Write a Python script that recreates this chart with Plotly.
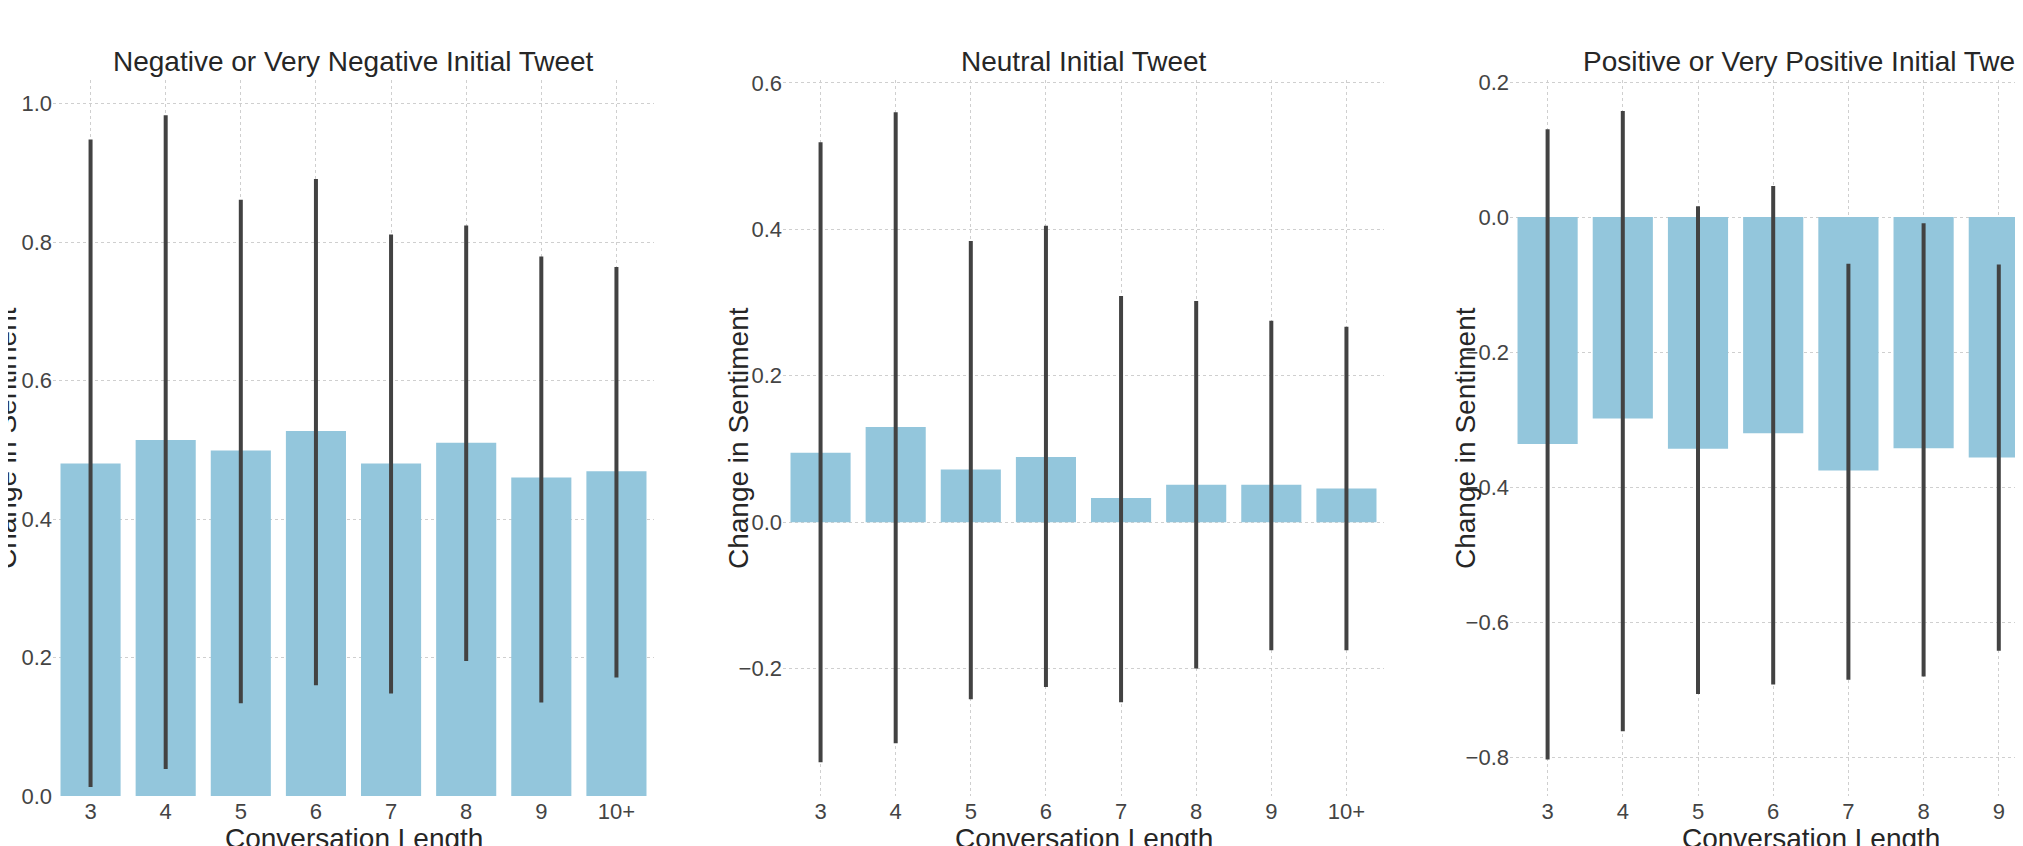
import plotly.graph_objects as go

# ---------------- data ----------------
categories = ["3", "4", "5", "6", "7", "8", "9", "10+"]
categories_pos = ["3", "4", "5", "6", "7", "8", "9"]   # 10+ is cut off in the picture

neg_mean = [0.480, 0.514, 0.499, 0.527, 0.480, 0.510, 0.460, 0.469]
neg_hi   = [0.948, 0.983, 0.861, 0.891, 0.811, 0.824, 0.779, 0.764]
neg_lo   = [0.013, 0.039, 0.134, 0.160, 0.148, 0.195, 0.135, 0.171]

neu_mean = [0.095, 0.130, 0.072, 0.089, 0.033, 0.051, 0.051, 0.046]
neu_hi   = [0.519, 0.560, 0.384, 0.405, 0.309, 0.302, 0.275, 0.267]
neu_lo   = [-0.328, -0.302, -0.242, -0.225, -0.246, -0.200, -0.175, -0.175]

pos_mean = [-0.336, -0.298, -0.343, -0.320, -0.375, -0.342, -0.356]
pos_hi   = [0.130, 0.157, 0.016, 0.046, -0.069, -0.009, -0.070]
pos_lo   = [-0.803, -0.761, -0.706, -0.692, -0.685, -0.680, -0.642]

titles = ["Negative or Very Negative Initial Tweet",
          "Neutral Initial Tweet",
          "Positive or Very Positive Initial Tweet"]

# ---------------- style ----------------
W, H = 2023, 846
OFF = 8            # page body margin offset
BAR = "#93C6DC"
ERR = "#424242"
FONT = "Liberation Sans, Arial, Helvetica, sans-serif"
TXT = "#262626"
TICK = "#444444"
GRID = "#cfcfcf"

PLOT_TOP, PLOT_BOT = 80, 796          # page px
ML, MR = 0, 0
MT = PLOT_TOP - OFF
MB = H - (PLOT_BOT - OFF)

# page-pixel extents of the three plot areas (left, right)
panels_px = [(53, 654), (783, 1384), (1510, W + OFF)]
full_right3 = 2112  # where panel 3 would end if not cut off
STEP = 75.2
ytitle_dx = [47, 45, 45]

def px2paper(x_page):
    return (x_page - OFF - ML) / (W - ML - MR)

fig = go.Figure()

series = [(categories, neg_mean, neg_hi, neg_lo),
          (categories, neu_mean, neu_hi, neu_lo),
          (categories_pos, pos_mean, pos_hi, pos_lo)]

for i, (cats, m, hi, lo) in enumerate(series):
    sfx = "" if i == 0 else str(i + 1)
    fig.add_trace(go.Bar(
        x=cats, y=m,
        marker=dict(color=BAR, line=dict(width=0)),
        width=0.8,
        error_y=dict(type="data", symmetric=False,
                     array=[h - v for h, v in zip(hi, m)],
                     arrayminus=[v - l for l, v in zip(lo, m)],
                     color=ERR, thickness=4, width=0),
        xaxis="x" + sfx, yaxis="y" + sfx,
        showlegend=False, hoverinfo="skip",
    ))

yranges = [[0, 1.034], [-0.374, 0.604], [-0.857, 0.203]]
xranges = [[-0.5, 7.5], [-0.5, 7.5],
           [-0.5, -0.5 + (panels_px[2][1] - panels_px[2][0]) / STEP]]

layout = dict(
    width=W, height=H,
    margin=dict(l=ML, r=MR, t=MT, b=MB, pad=0),
    paper_bgcolor="white", plot_bgcolor="white",
    font=dict(family=FONT, color=TXT),
)

for i in range(3):
    sfx = "" if i == 0 else str(i + 1)
    l, r = panels_px[i]
    layout["xaxis" + sfx] = dict(
        domain=[px2paper(l), min(1.0, px2paper(r))],
        anchor="y" + sfx, type="category", range=xranges[i],
        showgrid=True, gridcolor=GRID, griddash="dot", gridwidth=1,
        zeroline=False, showline=False, ticks="",
        tickfont=dict(size=22, color=TICK, family=FONT),
        fixedrange=True,
    )
    layout["yaxis" + sfx] = dict(
        domain=[0, 1], anchor="x" + sfx, range=yranges[i],
        dtick=0.2, tickformat=".1f",
        showgrid=True, gridcolor=GRID, griddash="dot", gridwidth=1,
        zeroline=False, showline=False, ticks="",
        tickfont=dict(size=22, color=TICK, family=FONT),
        fixedrange=True,
    )

fig.update_layout(**layout)

annotations = []
centers = [(panels_px[0][0] + panels_px[0][1]) / 2,
           (panels_px[1][0] + panels_px[1][1]) / 2,
           (panels_px[2][0] + full_right3) / 2]
for i in range(3):
    cx = px2paper(centers[i])
    annotations.append(dict(
        text=titles[i], x=cx, y=1, xref="paper", yref="paper",
        xanchor="center", yanchor="middle", yshift=PLOT_TOP - 61,
        showarrow=False, font=dict(size=28, color=TXT, family=FONT)))
    annotations.append(dict(
        text="Conversation Length", x=cx, y=0, xref="paper", yref="paper",
        xanchor="center", yanchor="top", yshift=-25,
        showarrow=False, font=dict(size=28, color=TXT, family=FONT)))
    annotations.append(dict(
        text="Change in Sentiment", x=px2paper(panels_px[i][0] - ytitle_dx[i]),
        y=0.5, xref="paper", yref="paper",
        xanchor="center", yanchor="middle", textangle=-90,
        showarrow=False, font=dict(size=28, color=TXT, family=FONT)))

fig.update_layout(annotations=annotations)

fig.write_html("out.html")
